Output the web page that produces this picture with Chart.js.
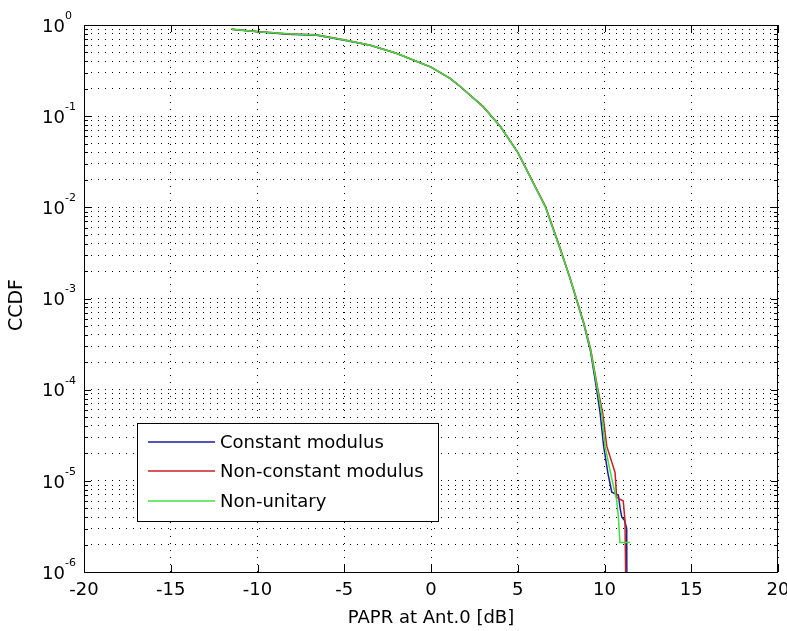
<!DOCTYPE html>
<html>
<head>
<meta charset="utf-8">
<script src="https://cdn.jsdelivr.net/npm/chart.js@4.4.1/dist/chart.umd.min.js"></script>
<style>
  html, body { margin: 0; padding: 0; background: #fff; }
</style>
</head>
<body>
<canvas id="myChart" width="787" height="631"></canvas>
<script>
// values
var seriesLabels = ["Constant modulus", "Non-constant modulus", "Non-unitary"];
var seriesColors = ["#1c1c9a", "#c82020", "#3ee03e"];
var xTicks = [-20, -15, -10, -5, 0, 5, 10, 15, 20];
var yDecades = [-6, -5, -4, -3, -2, -1, 0];

var paprConst = [-11.5, -10.0, -8.3, -6.6, -5.0, -3.5, -2.0, 0, 1.1, 1.7, 3.0, 4.0, 5.0, 6.6, 7.4, 8.0, 8.4, 8.8, 9.2, 9.55, 9.75, 9.95, 10.2, 10.42, 10.8, 10.9, 11.0, 11.15, 11.28, 11.3];
var ccdfConst = [0.90, 0.845, 0.79, 0.77, 0.68, 0.60, 0.49, 0.345, 0.26, 0.21, 0.127, 0.077, 0.04, 0.0101, 0.0037, 0.0017, 9.5e-4, 5.3e-4, 2.6e-4, 1.0e-4, 5.5e-5, 2.4e-5, 1.2e-5, 7.5e-6, 7e-6, 5e-6, 4e-6, 3.7e-6, 3e-6, 1e-7];

var paprNonConst = [-11.5, -10.0, -8.3, -6.6, -5.0, -3.5, -2.0, 0, 1.1, 1.7, 3.0, 4.0, 5.0, 6.6, 7.4, 8.0, 8.4, 8.8, 9.2, 9.6, 9.9, 10.13, 10.61, 10.7, 11.08, 11.18, 11.28];
var ccdfNonConst = [0.90, 0.85, 0.80, 0.78, 0.69, 0.60, 0.49, 0.345, 0.26, 0.21, 0.128, 0.077, 0.04, 0.0102, 0.0038, 0.0017, 9.7e-4, 5.5e-4, 2.8e-4, 1.05e-4, 5.5e-5, 2.4e-5, 1.23e-5, 6.6e-6, 6e-6, 3.7e-6, 1e-7];

var paprNonUnit = [-11.5, -10.0, -8.3, -6.6, -5.0, -3.5, -2.0, 0, 1.1, 1.7, 3.0, 4.0, 5.0, 6.6, 7.4, 8.0, 8.4, 8.8, 9.2, 9.6, 9.84, 10.03, 10.42, 10.7, 10.8, 10.89, 11.47];
var ccdfNonUnit = [0.90, 0.845, 0.80, 0.775, 0.685, 0.60, 0.49, 0.345, 0.26, 0.21, 0.127, 0.077, 0.04, 0.01, 0.0037, 0.0017, 9.6e-4, 5.4e-4, 2.7e-4, 1.0e-4, 5.5e-5, 2.4e-5, 1.05e-5, 6.2e-6, 4e-6, 2.1e-6, 2.1e-6];

function toPoints(xs, ys) {
  return xs.map(function (x, i) { return { x: x, y: ys[i] }; });
}

// every 1..9 x 10^k tick for the dotted log grid
function logGridTicks() {
  var t = [];
  for (var k = yDecades[0]; k < yDecades[yDecades.length - 1]; k++) {
    for (var m = 1; m < 10; m++) t.push({ value: m * Math.pow(10, k) });
  }
  t.push({ value: 1 });
  return t;
}

Chart.defaults.font.family = "'DejaVu Sans', sans-serif";
Chart.defaults.color = "#000";

var matlabAxes = {
  id: "matlabAxes",
  beforeDraw: function (chart) {
    var ctx = chart.ctx;
    ctx.save();
    ctx.fillStyle = "#fff";
    ctx.fillRect(0, 0, chart.width, chart.height);
    ctx.restore();
  },
  afterDraw: function (chart) {
    var ctx = chart.ctx;
    var a = chart.chartArea;
    var xs = chart.scales.x, ys = chart.scales.y;
    ctx.save();
    ctx.strokeStyle = "#000";
    ctx.lineWidth = 1;
    ctx.strokeRect(a.left + 0.5, a.top + 0.5, a.right - a.left - 1, a.bottom - a.top);

    // ticks pointing inward
    ctx.beginPath();
    xTicks.forEach(function (v) {
      var px = Math.round(xs.getPixelForValue(v)) + 0.5;
      ctx.moveTo(px, a.bottom); ctx.lineTo(px, a.bottom - 7);
      ctx.moveTo(px, a.top); ctx.lineTo(px, a.top + 7);
    });
    ys.ticks.forEach(function (t) {
      var py = Math.round(ys.getPixelForValue(t.value)) + 0.5;
      var major = Math.abs(Math.log10(t.value) - Math.round(Math.log10(t.value))) < 1e-9;
      var len = major ? 7 : 4;
      ctx.moveTo(a.left, py); ctx.lineTo(a.left + len, py);
      ctx.moveTo(a.right, py); ctx.lineTo(a.right - len, py);
    });
    ctx.stroke();

    // y tick labels 10^k
    ctx.fillStyle = "#000";
    yDecades.forEach(function (k) {
      var py = ys.getPixelForValue(Math.pow(10, k));
      ctx.font = "18px 'DejaVu Sans'";
      ctx.textAlign = "left";
      ctx.textBaseline = "middle";
      ctx.fillText("10", 42, py + 2);
      ctx.font = "11px 'DejaVu Sans'";
      ctx.fillText(String(k), 65, py - 9);
    });

    // y axis title
    ctx.save();
    ctx.translate(17, 305);
    ctx.rotate(-Math.PI / 2);
    ctx.font = "19px 'DejaVu Sans'";
    ctx.textAlign = "center";
    ctx.textBaseline = "middle";
    ctx.fillText("CCDF", 0, 0);
    ctx.restore();

    // legend
    var lx = 137, ly = 423, lw = 301, lh = 98;
    ctx.fillStyle = "#fff";
    ctx.fillRect(lx, ly, lw, lh);
    ctx.strokeRect(lx + 0.5, ly + 0.5, lw, lh);
    var rows = [442, 471, 501];
    ctx.font = "18px 'DejaVu Sans'";
    ctx.textBaseline = "middle";
    ctx.textAlign = "left";
    seriesLabels.forEach(function (lab, i) {
      ctx.strokeStyle = seriesColors[i];
      ctx.lineWidth = 1.5;
      ctx.beginPath();
      ctx.moveTo(148, rows[i]); ctx.lineTo(215, rows[i]);
      ctx.stroke();
      ctx.fillStyle = "#000";
      ctx.fillText(lab, 220, rows[i] + 1);
    });
    ctx.restore();
  }
};

var ctx = document.getElementById("myChart").getContext("2d");
var ccdfChart = new Chart(ctx, {
  type: "line",
  data: {
    datasets: [
      { label: seriesLabels[0], data: toPoints(paprConst, ccdfConst), borderColor: seriesColors[0], order: 2 },
      { label: seriesLabels[1], data: toPoints(paprNonConst, ccdfNonConst), borderColor: seriesColors[1], order: 1 },
      { label: seriesLabels[2], data: toPoints(paprNonUnit, ccdfNonUnit), borderColor: seriesColors[2], order: 0 }
    ]
  },
  options: {
    responsive: false,
    animation: false,
    layout: { padding: { left: 0, right: 9, top: 25, bottom: 0 } },
    elements: {
      point: { radius: 0 },
      line: { borderWidth: 1.5, tension: 0, fill: false }
    },
    plugins: {
      legend: { display: false },
      tooltip: { enabled: false }
    },
    scales: {
      x: {
        type: "linear",
        min: -20,
        max: 20,
        afterBuildTicks: function (scale) {
          scale.ticks = xTicks.map(function (v) { return { value: v }; });
        },
        afterFit: function (scale) {
          scale.height = 59;
          scale.paddingLeft = 0;
          scale.paddingRight = 0;
        },
        ticks: { font: { size: 18 }, padding: 8, maxRotation: 0 },
        grid: { color: "#000", lineWidth: 1, drawTicks: false },
        border: { display: false, dash: [1, 6] },
        title: { display: true, text: "PAPR at Ant.0 [dB]", font: { size: 18 }, padding: { bottom: 2 } }
      },
      y: {
        type: "logarithmic",
        min: 1e-6,
        max: 1,
        afterBuildTicks: function (scale) { scale.ticks = logGridTicks(); },
        afterFit: function (scale) {
          scale.width = 84;
          scale.paddingTop = 0;
          scale.paddingBottom = 0;
        },
        ticks: { autoSkip: false, callback: function () { return ""; } },
        grid: { color: "#000", lineWidth: 1, drawTicks: false },
        border: { display: false, dash: [1, 6] }
      }
    }
  },
  plugins: [matlabAxes]
});
</script>
</body>
</html>
